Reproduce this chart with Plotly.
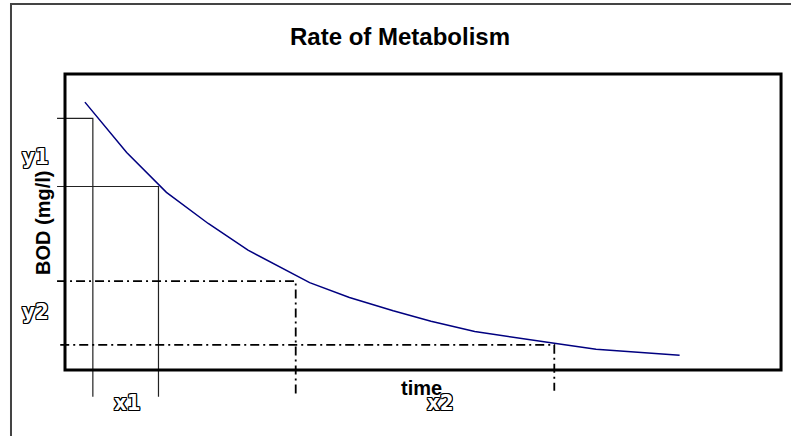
import plotly.graph_objects as go

# BOD decay curve (time in arbitrary units, BOD in mg/l)
time_vals = [0.5, 1.55, 2.55, 3.6, 4.6, 6.15, 7.15, 8.25, 9.2, 10.3, 12.3, 13.35, 15.45]
bod_vals = [9.05, 7.35, 6.0, 4.95, 4.05, 2.95, 2.45, 2.0, 1.65, 1.3, 0.9, 0.7, 0.5]

# guide levels
x1_vals = [0.7, 2.35]
y1_vals = [8.5, 6.2]
x2_vals = [5.8, 12.3]
y2_vals = [3.0, 0.85]

box_x = [0, 18]
box_y = [0, 10]

W, H = 791, 436
fig = go.Figure()

solid = dict(color="#222222", width=1.2)
dashdot = dict(color="#000000", width=1.8, dash="9px,4px,2px,4px")

for xv, yv in zip(x1_vals, y1_vals):
    fig.add_trace(go.Scatter(x=[-0.2, xv, xv], y=[yv, yv, -0.9], mode="lines",
                             line=solid, hoverinfo="skip", showlegend=False))
for i, (xv, yv) in enumerate(zip(x2_vals, y2_vals)):
    bottom = [-0.8, -0.7][i]
    left = [-0.2, -0.12][i]
    fig.add_trace(go.Scatter(x=[left, xv, xv], y=[yv, yv, bottom], mode="lines",
                             line=dashdot, hoverinfo="skip", showlegend=False))

fig.add_trace(go.Scatter(x=time_vals, y=bod_vals, mode="lines",
                         line=dict(color="#000080", width=1.5),
                         showlegend=False, name="BOD"))

# plot box
fig.add_shape(type="rect", xref="x", yref="y", x0=box_x[0], x1=box_x[1],
              y0=box_y[0], y1=box_y[1], line=dict(color="black", width=3),
              layer="above")

# outer chart border (left & top)
fig.add_shape(type="path", xref="paper", yref="paper",
              path="M %.4f,-0.1 L %.4f,%.4f L 1.1,%.4f" % (11 / W, 11 / W, 1 - 4 / H, 1 - 4 / H),
              line=dict(color="#444444", width=2))

shadow = ", ".join("%dpx %dpx 0 #000" % (dx, dy)
                   for dx in (-1, 0, 1) for dy in (-1, 0, 1) if dx or dy)
outline = dict(family="DejaVu Sans Condensed, Liberation Sans", size=22,
               color="white", weight="bold", shadow=shadow)
plain = dict(family="Arial, Liberation Sans", size=20, color="black", weight="bold")

anns = [
    dict(text="<b>y1</b>", x=-0.75, y=7.2, font=outline),
    dict(text="<b>y2</b>", x=-0.73, y=1.96, font=outline),
    dict(text="<b>x1</b>", x=1.56, y=-1.11, font=outline),
    dict(text="<b>x2</b>", x=9.43, y=-1.11, font=outline),
    dict(text="time", x=8.95, y=-0.6, font=plain),
    dict(text="BOD (mg/l)", x=-0.55, y=4.97, font=plain, textangle=-90),
]
for a in anns:
    fig.add_annotation(xref="x", yref="y", showarrow=False, **a)

fig.update_layout(
    width=W, height=H,
    margin=dict(l=0, r=0, t=0, b=0, pad=0),
    paper_bgcolor="white", plot_bgcolor="white",
    title=dict(text="<b>Rate of Metabolism</b>", x=400 / W, xref="paper", xanchor="center",
               y=1 - 37 / H, yref="container", yanchor="middle",
               font=dict(family="Arial, Liberation Sans", size=24, color="black")),
    xaxis=dict(range=[-65 / 39.78, (W - 65) / 39.78], visible=False, fixedrange=True),
    yaxis=dict(range=[(370 - H) / 29.6, 370 / 29.6], visible=False, fixedrange=True),
)

fig.write_html("out.html", config={"displayModeBar": False},
               post_script="document.body.style.margin='0';document.body.style.padding='0';")
